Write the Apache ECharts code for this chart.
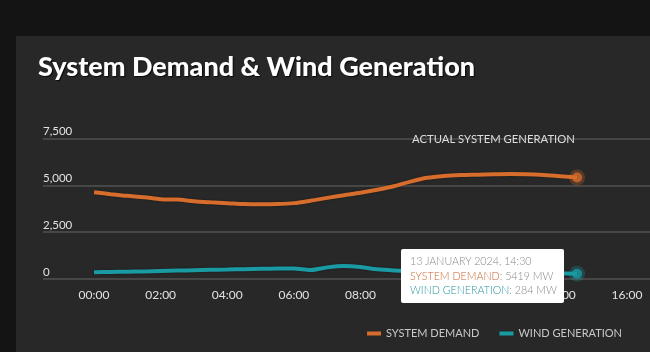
<!DOCTYPE html>
<html>
<head>
<meta charset="utf-8">
<script src="https://cdn.jsdelivr.net/npm/echarts@6.0.0/dist/echarts.min.js"></script>
<style>
  html, body { margin: 0; padding: 0; background: #141414; width: 650px; height: 352px; overflow: hidden; }
  #panel { position: absolute; left: 16px; top: 36px; width: 634px; height: 316px; background: #282828; }
</style>
</head>
<body>
<div id="panel"></div>
<script>
// half-hourly readings, 13 January 2024
const times = ['00:00','00:30','01:00','01:30','02:00','02:30','03:00','03:30','04:00','04:30',
  '05:00','05:30','06:00','06:30','07:00','07:30','08:00','08:30','09:00','09:30',
  '10:00','10:30','11:00','11:30','12:00','12:30','13:00','13:30','14:00','14:30'];
const systemDemand = [4630,4530,4440,4370,4260,4240,4150,4095,4050,4000,
  3985,4000,4050,4180,4330,4470,4600,4760,4950,5200,
  5400,5500,5550,5570,5590,5605,5590,5550,5490,5419];
const windGeneration = [357,375,390,405,430,450,470,490,505,525,
  545,565,560,480,620,690,640,520,460,430,
  410,390,370,360,350,340,330,320,305,284];
const xTickLabels = ['00:00','02:00','04:00','06:00','08:00','10:00','12:00','14:00','16:00'];
const yTicks = [0, 2500, 5000, 7500];
const tooltipDate = '13 JANUARY 2024, 14:30';

const ORANGE = '#d76d2c';
const TEAL = '#1a9ba4';

function toHours(t) {
  const p = t.split(':');
  return +p[0] + (+p[1]) / 60;
}
function fmtHour(h) {
  return (h < 10 ? '0' : '') + h + ':00';
}

const last = times.length - 1;
const demandData = times.map((t, i) => [toHours(t), systemDemand[i]]);
const windData = times.map((t, i) => [toHours(t), windGeneration[i]]);

const chart = echarts.init(document.getElementById('panel'));
const option = {
  animation: false,
  title: [
    {
      text: 'System Demand & Wind Generation',
      left: 17,
      top: 13,
      textStyle: {
        fontFamily: 'Lato, sans-serif',
        fontWeight: 900,
        fontSize: 27,
        color: '#ffffff',
        textShadowColor: 'rgba(0,0,0,0.8)',
        textShadowOffsetX: 1,
        textShadowOffsetY: 1,
        textShadowBlur: 1
      }
    },
    {
      text: 'ACTUAL SYSTEM GENERATION',
      left: 391,
      top: 93,
      textStyle: { fontFamily: 'Lato, sans-serif', fontSize: 11.3, fontWeight: 'normal', color: '#dddddd' }
    }
  ],
  legend: {
    data: ['SYSTEM DEMAND', 'WIND GENERATION'],
    right: 23,
    top: 287,
    icon: 'rect',
    itemWidth: 14,
    itemHeight: 4,
    itemGap: 20,
    textStyle: { fontFamily: 'Lato, sans-serif', fontSize: 11, color: '#c8c8c8' }
  },
  tooltip: {
    trigger: 'item',
    triggerOn: 'none',
    alwaysShowContent: true,
    transitionDuration: 0,
    position: [385, 213],
    backgroundColor: '#ffffff',
    borderWidth: 0,
    borderRadius: 2,
    padding: [5, 7, 5, 9],
    extraCssText: 'box-shadow:none;',
    textStyle: { fontFamily: 'Lato, sans-serif', fontSize: 10.7, color: '#888888', lineHeight: 14.5 },
    formatter: function () {
      return '<div style="line-height:14.5px;font-weight:300;font-size:10.7px">' + tooltipDate + '<br/>' +
        '<span style="color:#c8652e">SYSTEM DEMAND</span>: ' + systemDemand[last] + ' MW<br/>' +
        '<span style="color:#2a97a0">WIND GENERATION</span>: ' + windGeneration[last] + ' MW</div>';
    }
  },
  grid: { left: 27, right: 0, top: 102.5, bottom: 73 },
  xAxis: {
    type: 'value',
    min: -1.531,
    max: 16.69,
    axisLine: { show: false },
    axisTick: { show: false },
    splitLine: { show: false },
    axisLabel: {
      customValues: xTickLabels.map(toHours),
      formatter: fmtHour,
      margin: 10,
      color: '#e2e2e2',
      fontFamily: 'Lato, sans-serif',
      fontSize: 12
    }
  },
  yAxis: {
    type: 'value',
    min: yTicks[0],
    max: yTicks[yTicks.length - 1],
    interval: 2500,
    axisLine: { show: false },
    axisTick: { show: false },
    splitLine: { lineStyle: { color: '#505050', width: 1.5 } },
    axisLabel: {
      inside: true,
      margin: 0,
      verticalAlign: 'bottom',
      padding: [0, 0, 1, 0],
      color: '#e2e2e2',
      fontFamily: 'Lato, sans-serif',
      fontSize: 11.5,
      formatter: v => v.toLocaleString('en-US')
    }
  },
  series: [
    {
      name: 'SYSTEM DEMAND',
      type: 'line',
      data: demandData,
      smooth: 0.3,
      showSymbol: false,
      color: ORANGE,
      lineStyle: { width: 4, color: ORANGE, shadowColor: 'rgba(0,0,0,0.5)', shadowBlur: 2 }
    },
    {
      name: 'WIND GENERATION',
      type: 'line',
      data: windData,
      smooth: 0.3,
      showSymbol: false,
      color: TEAL,
      lineStyle: { width: 4, color: TEAL, shadowColor: 'rgba(0,0,0,0.5)', shadowBlur: 2 }
    },
    {
      name: 'demand-end',
      type: 'scatter',
      data: [demandData[last]],
      symbolSize: 10,
      itemStyle: { color: ORANGE, borderColor: 'rgba(215,109,44,0.35)', borderWidth: 6 },
      z: 5
    },
    {
      name: 'wind-end',
      type: 'scatter',
      data: [windData[last]],
      symbolSize: 10,
      itemStyle: { color: TEAL, borderColor: 'rgba(26,155,164,0.35)', borderWidth: 6 },
      z: 5
    }
  ]
};
chart.setOption(option);
chart.dispatchAction({ type: 'showTip', seriesIndex: 2, dataIndex: 0 });
</script>
</body>
</html>
